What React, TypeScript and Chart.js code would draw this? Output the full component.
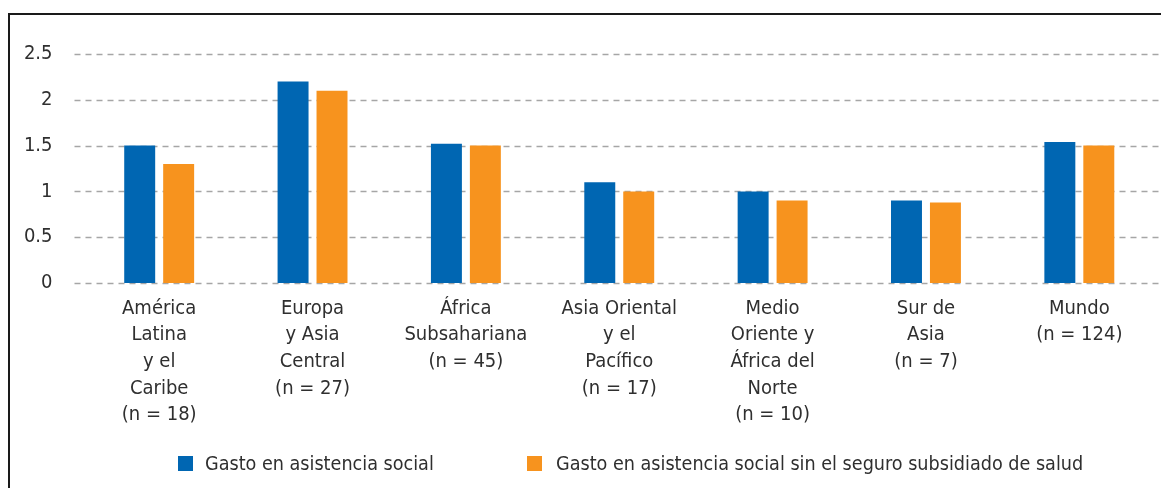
import React, { useEffect, useRef } from "react";
import { Chart, registerables } from "chart.js";

Chart.register(...registerables);

const categories: string[][] = [
  ["América", "Latina", "y el", "Caribe", "(n = 18)"],
  ["Europa", "y Asia", "Central", "(n = 27)"],
  ["África", "Subsahariana", "(n = 45)"],
  ["Asia Oriental", "y el", "Pacífico", "(n = 17)"],
  ["Medio", "Oriente y", "África del", "Norte", "(n = 10)"],
  ["Sur de", "Asia", "(n = 7)"],
  ["Mundo", "(n = 124)"],
];

const seriesNames = [
  "Gasto en asistencia social",
  "Gasto en asistencia social sin el seguro subsidiado de salud",
];

const gastoAsistencia = [1.5, 2.2, 1.52, 1.1, 1.0, 0.9, 1.54];
const gastoSinSeguro = [1.3, 2.1, 1.5, 1.0, 0.9, 0.88, 1.5];

const yTicks = [0, 0.5, 1, 1.5, 2, 2.5];

const BLUE = "#0066B2";
const ORANGE = "#F7931E";
const FONT = "'DejaVu Sans Condensed', 'Liberation Sans', sans-serif";
const TEXT = "#2f2f2f";
const FONT_SIZE = 20;

const gridPlugin = {
  id: "extGrid",
  beforeDatasetsDraw(chart: any) {
    const { ctx, chartArea, scales } = chart;
    const y = scales.y;
    ctx.save();
    ctx.strokeStyle = "#a6a6a6";
    ctx.lineWidth = 1.5;
    ctx.setLineDash([6, 5]);
    yTicks.forEach((v) => {
      const py = Math.round(y.getPixelForValue(v)) + 0.5;
      ctx.beginPath();
      ctx.moveTo(chartArea.left - 8, py);
      ctx.lineTo(chart.width, py);
      ctx.stroke();
    });
    ctx.restore();
  },
};

export default function App() {
  const ref = useRef<HTMLCanvasElement | null>(null);

  useEffect(() => {
    if (!ref.current) return;
    const chart = new Chart(ref.current, {
      type: "bar",
      data: {
        labels: categories,
        datasets: [
          {
            label: seriesNames[0],
            data: gastoAsistencia,
            backgroundColor: BLUE,
            categoryPercentage: 0.508,
            barPercentage: 0.795,
          },
          {
            label: seriesNames[1],
            data: gastoSinSeguro,
            backgroundColor: ORANGE,
            categoryPercentage: 0.508,
            barPercentage: 0.795,
          },
        ],
      },
      options: {
        responsive: false,
        animation: false,
        layout: { padding: { left: 0, right: 5, top: 54, bottom: 0 } },
        plugins: {
          legend: { display: false },
          tooltip: { enabled: false },
        },
        scales: {
          x: {
            grid: { display: false, drawTicks: false },
            border: { display: false },
            ticks: {
              color: TEXT,
              padding: 12,
              maxRotation: 0,
              autoSkip: false,
              font: { family: FONT, size: FONT_SIZE, lineHeight: 1.333 },
            },
            afterFit: (s: any) => {
              s.height = 205;
            },
          },
          y: {
            min: 0,
            max: 2.5,
            grid: { display: false, drawTicks: false },
            border: { display: false },
            ticks: {
              stepSize: 0.5,
              color: TEXT,
              padding: 30,
              font: { family: FONT, size: FONT_SIZE },
              callback: (v: any) => String(v),
            },
            afterFit: (s: any) => {
              s.width = 82.5;
            },
          },
        },
      },
      plugins: [gridPlugin],
    });
    return () => chart.destroy();
  }, []);

  const legendText: React.CSSProperties = {
    position: "fixed",
    top: 451,
    height: 25,
    lineHeight: "25px",
    fontFamily: FONT,
    fontSize: 19.6,
    color: TEXT,
    whiteSpace: "nowrap",
  };

  return (
    <div>
      <div
        style={{
          position: "fixed",
          left: 8,
          top: 13,
          width: 2000,
          height: 1000,
          borderTop: "2px solid #1a1a1a",
          borderLeft: "2px solid #1a1a1a",
          boxSizing: "border-box",
        }}
      />
      <div style={{ position: "fixed", left: 0, top: 0, width: 1161, height: 488 }}>
        <canvas ref={ref} width={1161} height={488} style={{ display: "block" }} />
      </div>
      <div style={{ position: "fixed", left: 178, top: 456, width: 15, height: 15, background: BLUE }} />
      <div style={{ ...legendText, left: 205 }}>{seriesNames[0]}</div>
      <div style={{ position: "fixed", left: 527, top: 456, width: 15, height: 15, background: ORANGE }} />
      <div style={{ ...legendText, left: 556 }}>{seriesNames[1]}</div>
    </div>
  );
}
